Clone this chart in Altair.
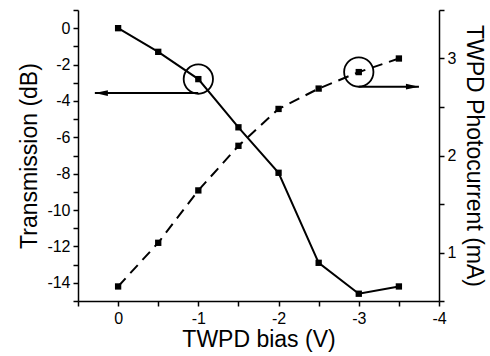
import altair as alt
import pandas as pd

bias = [0, -0.5, -1, -1.5, -2, -2.5, -3, -3.5]
transmission = [0, -1.3, -2.8, -5.45, -7.95, -12.9, -14.6, -14.2]
photocurrent = [0.65, 1.10, 1.64, 2.10, 2.48, 2.69, 2.86, 3.0]

# annotation data
circle_left = {"x": [-1], "y": [-2.8]}
circle_right = {"x": [-3], "y": [2.86]}
arrow_left = {"x": [-1], "x2": [0.29], "y": [-3.57]}
arrow_right = {"x": [-3], "x2": [-3.75], "y": [2.71]}

FONT = "Liberation Sans"

df_t = pd.DataFrame({"bias": bias, "val": transmission})
df_p = pd.DataFrame({"bias": bias, "val": photocurrent})

x_vals = [0.5, 0, -0.5, -1, -1.5, -2, -2.5, -3, -3.5, -4]
yl_vals = list(range(-15, 2))
yr_vals = [0.5, 1, 1.5, 2, 2.5, 3, 3.5]

x_axis = alt.Axis(
    values=x_vals, title="TWPD bias (V)",
    labelExpr="datum.value % 1 == 0 ? toString(datum.value) : ''",
    tickSize=5, labelPadding=4, titlePadding=2, grid=False,
)
x_scale = alt.Scale(domain=[0.5, -4], nice=False, zero=False)

yl_axis = alt.Axis(
    values=yl_vals, title="Transmission (dB)", orient="left",
    labelExpr="datum.value % 2 == 0 ? toString(datum.value) : ''",
    tickSize=5, labelPadding=3, titlePadding=5, grid=False,
)
yl_scale = alt.Scale(domain=[-15, 1], nice=False, zero=False)

yr_axis = alt.Axis(
    values=yr_vals, title="TWPD Photocurrent (mA)", orient="right",
    labelExpr="datum.value % 1 == 0 ? toString(datum.value) : ''",
    tickSize=5, labelPadding=3, titlePadding=6, titleFontSize=23, grid=False,
)
yr_scale = alt.Scale(domain=[0.5, 3.5], nice=False, zero=False)


def X(field="bias"):
    return alt.X(f"{field}:Q", scale=x_scale, axis=x_axis)


def YL(field="val"):
    return alt.Y(f"{field}:Q", scale=yl_scale, axis=yl_axis)


def YR(field="val"):
    return alt.Y(f"{field}:Q", scale=yr_scale, axis=yr_axis)


head_left = "M0,0L2,-0.45L2,0.45Z"
head_right = "M0,0L-2,-0.45L-2,0.45Z"

# left (transmission) group
t_line = alt.Chart(df_t).mark_line(color="black", strokeWidth=2).encode(x=X(), y=YL())
t_pts = alt.Chart(df_t).mark_point(shape="square", filled=True, color="black", size=40, opacity=1).encode(x=X(), y=YL())
cl = pd.DataFrame(circle_left)
c_left = alt.Chart(cl).mark_point(shape="circle", filled=False, color="black", size=860, strokeWidth=1.8, opacity=1).encode(
    x=X("x"), y=YL("y"))
al = pd.DataFrame(arrow_left)
a_left = alt.Chart(al).mark_rule(color="black", strokeWidth=2).encode(x=X("x"), x2="x2:Q", y=YL("y"))
h_left = alt.Chart(al).mark_point(shape=head_left, filled=True, color="black", size=169, opacity=1).encode(
    x=X("x2"), y=YL("y"))
left = alt.layer(t_line, t_pts, c_left, a_left, h_left)

# right (photocurrent) group
p_line = alt.Chart(df_p).mark_line(color="black", strokeWidth=2, strokeDash=[11, 7]).encode(x=X(), y=YR())
p_pts = alt.Chart(df_p).mark_point(shape="square", filled=True, color="black", size=40, opacity=1).encode(x=X(), y=YR())
cr = pd.DataFrame(circle_right)
c_right = alt.Chart(cr).mark_point(shape="circle", filled=False, color="black", size=860, strokeWidth=1.8, opacity=1).encode(
    x=X("x"), y=YR("y"))
ar = pd.DataFrame(arrow_right)
a_right = alt.Chart(ar).mark_rule(color="black", strokeWidth=2).encode(x=X("x"), x2="x2:Q", y=YR("y"))
h_right = alt.Chart(ar).mark_point(shape=head_right, filled=True, color="black", size=169, opacity=1).encode(
    x=X("x2"), y=YR("y"))
right = alt.layer(p_line, p_pts, c_right, a_right, h_right)

chart = alt.layer(left, right).resolve_scale(y="independent").properties(
    width=361, height=291,
    padding={"left": 78, "top": 10, "right": 51, "bottom": 55},
    autosize="none",
    background="white",
).configure_view(stroke=None).configure_axis(
    domainColor="black", domainWidth=1.5, tickColor="black", tickWidth=1.5,
    labelColor="black", titleColor="black",
    labelFont=FONT, titleFont=FONT, labelFontSize=16, titleFontSize=23,
    titleFontWeight="normal", labelFlush=False, labelOverlap=False,
)

chart.save("out.html", embed_options={"renderer": "svg", "actions": False})
